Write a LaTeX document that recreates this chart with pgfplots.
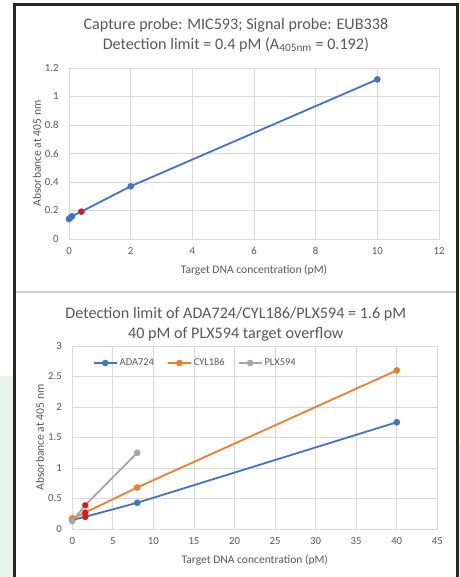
\documentclass[border=0pt]{standalone}
\usepackage{fontspec}
\setmainfont{Carlito}
\usepackage{pgfplots}
\pgfplotsset{compat=1.18}
\definecolor{xblue}{HTML}{4472C4}
\definecolor{xorange}{HTML}{ED7D31}
\definecolor{xgray}{HTML}{A5A5A5}
\definecolor{xred}{HTML}{F01010}
\definecolor{gridc}{HTML}{D9D9D9}
\definecolor{txt}{HTML}{595959}
\definecolor{framec}{HTML}{262626}
\definecolor{sepc}{HTML}{D0D0D0}
\definecolor{mint}{HTML}{E6F4EC}
\pgfplotsset{
  excel/.style={
    scale only axis,
    grid=major,
    major grid style={draw=gridc, line width=0.8bp},
    axis line style={draw=gridc, line width=0.8bp},
    major tick length=0pt,
    tick label style={font=\fontsize{10.8}{12}\selectfont, text=txt},
    yticklabel style={xshift=-7bp},
    xticklabel style={yshift=-5bp},
    label style={font=\fontsize{11.6}{13}\selectfont, text=txt},
    title style={font=\fontsize{16.2}{20}\selectfont, text=txt, align=center, anchor=center},
    /pgf/number format/assume math mode=true,
    every axis plot/.append style={line width=1.8bp, mark=*, mark size=3bp, mark options={solid, line width=0.6bp}},
  }
}
\begin{document}
\begin{tikzpicture}
\path[use as bounding box, fill=white] (0,0) rectangle (460bp,577bp);
\fill[mint] (0,0) rectangle (13.3bp,201bp);
\fill[mint] (458.7bp,0) rectangle (460bp,134bp);

\begin{axis}[excel,
  at={(69bp,338bp)}, anchor=south west,
  width=370bp, height=171bp,
  xmin=0, xmax=12, ymin=0, ymax=1.2,
  xtick={0,2,4,6,8,10,12},
  ytick={0,0.2,0.4,0.6,0.8,1,1.2},
  title={Capture probe: MIC593; Signal probe: EUB338\\Detection limit = 0.4 pM (A\textsubscript{405nm} = 0.192)},
  title style={at={(axis description cs:0.451,1)}, yshift=27bp},
  xlabel={Target DNA concentration (pM)},
  ylabel={Absorbance at 405 nm},
  xlabel style={at={(axis description cs:0.5,-0.181)}, anchor=center},
  ylabel style={at={(axis description cs:-0.0865,0.5)}, anchor=center},
]
\addplot[xblue] coordinates {(0,0.14)(0.05,0.15)(0.1,0.16)(0.4,0.192)(2,0.37)(10,1.12)};
\addplot[xred, only marks, mark size=2.6bp] coordinates {(0.4,0.192)};
\end{axis}

\begin{axis}[excel,
  at={(72.3bp,48bp)}, anchor=south west,
  width=365bp, height=183bp,
  xmin=0, xmax=45, ymin=0, ymax=3,
  xtick={0,5,10,15,20,25,30,35,40,45},
  ytick={0,0.5,1,1.5,2,2.5,3},
  title={Detection limit of ADA724/CYL186/PLX594 = 1.6 pM\\40 pM of PLX594 target overflow},
  title style={at={(axis description cs:0.448,1)}, yshift=16bp},
  xlabel={Target DNA concentration (pM)},
  ylabel={Absorbance at 405 nm},
  xlabel style={at={(axis description cs:0.5,-0.169)}, anchor=center},
  ylabel style={at={(axis description cs:-0.0885,0.5)}, anchor=center},
  legend style={at={(axis description cs:0.056,0.907)}, anchor=west, draw=none, fill=none,
    font=\fontsize{10.5}{12}\selectfont, text=txt, inner sep=0pt,
    /tikz/every even column/.append style={column sep=11bp}},
  legend columns=3,
  legend cell align=left,
  legend image code/.code={\draw[mark repeat=2,mark phase=2] plot coordinates {(0bp,0bp)(11.5bp,0bp)(23bp,0bp)};},
]
\addplot[xblue] coordinates {(0,0.15)(1.6,0.2)(8,0.43)(40,1.75)};
\addlegendentry{ADA724}
\addplot[xorange] coordinates {(0,0.175)(1.6,0.27)(8,0.68)(40,2.6)};
\addlegendentry{CYL186}
\addplot[xgray] coordinates {(0,0.13)(1.6,0.39)(8,1.25)};
\addlegendentry{PLX594}
\addplot[xred, only marks, mark size=2.6bp, forget plot] coordinates {(1.6,0.2)(1.6,0.27)(1.6,0.39)};
\end{axis}

\draw[framec, line width=2.5bp] (14.5bp,0) -- (14.5bp,572.5bp) -- (457.5bp,572.5bp) -- (457.5bp,0);
\draw[sepc, line width=2bp] (15.75bp,285bp) -- (456.25bp,285bp);
\end{tikzpicture}
\end{document}
